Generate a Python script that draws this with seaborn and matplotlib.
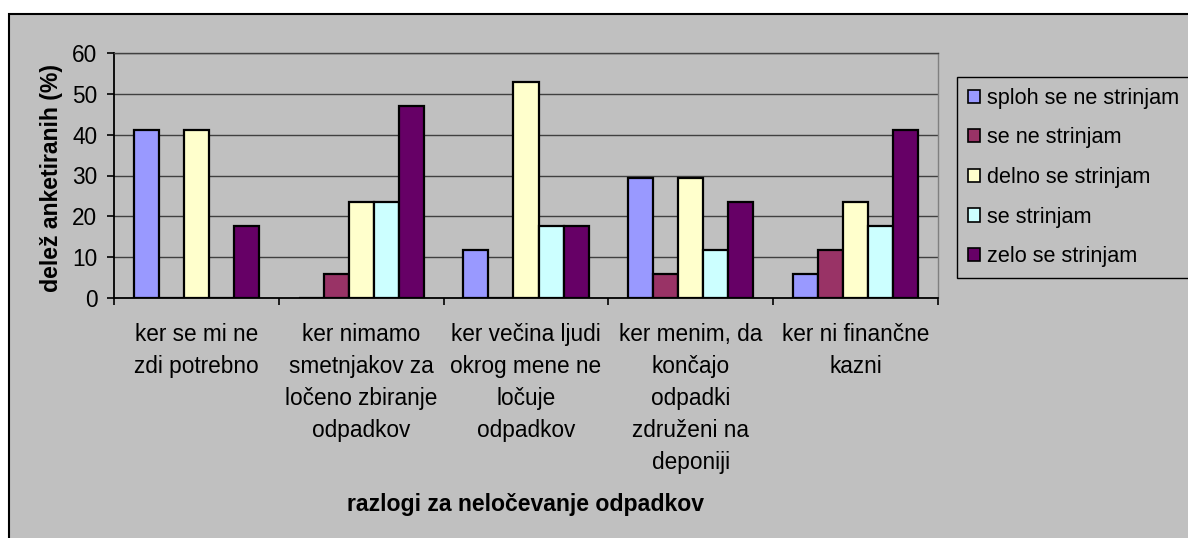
import matplotlib
matplotlib.use("Agg")
import matplotlib.pyplot as plt
import matplotlib.patches as mpatches
import numpy as np
import pandas as pd
import seaborn as sns

# ---- data -------------------------------------------------------------
categories = [
    "ker se mi ne\nzdi potrebno",
    "ker nimamo\nsmetnjakov za\nločeno zbiranje\nodpadkov",
    "ker večina ljudi\nokrog mene ne\nločuje\nodpadkov",
    "ker menim, da\nkončajo\nodpadki\nzdruženi na\ndeponiji",
    "ker ni finančne\nkazni",
]
series = ["sploh se ne strinjam", "se ne strinjam", "delno se strinjam",
          "se strinjam", "zelo se strinjam"]
sploh_se_ne = [41.2, 0.0, 11.8, 29.4, 5.9]
se_ne = [0.0, 5.9, 0.0, 5.9, 11.8]
delno = [41.2, 23.5, 52.9, 29.4, 23.5]
se_strinjam = [0.0, 23.5, 17.6, 11.8, 17.6]
zelo = [17.6, 47.1, 17.6, 23.5, 41.2]
colors = ["#9999FF", "#993366", "#FFFFCC", "#CCFFFF", "#660066"]
yticks = [0, 10, 20, 30, 40, 50, 60]
xlabel = "razlogi za neločevanje odpadkov"
ylabel = "delež anketiranih (%)"

values = [sploh_se_ne, se_ne, delno, se_strinjam, zelo]
rows = []
for s, vals in zip(series, values):
    for c, v in zip(categories, vals):
        rows.append({"razlog": c, "odgovor": s, "delez": v})
df = pd.DataFrame(rows)

# ---- style ------------------------------------------------------------
sns.set_style("white")
plt.rcParams["font.family"] = ["Liberation Sans", "DejaVu Sans"]
for k in ["text.color", "axes.labelcolor", "xtick.color", "ytick.color"]:
    plt.rcParams[k] = "black"
FS = 16.3
FSB = 16.6
FSL = 15.6
W, H = 1188, 538
fig = plt.figure(figsize=(W / 100, H / 100), dpi=100, facecolor="white")

bg = mpatches.Rectangle((9 / W, -0.05), 1.1, (H - 14) / H + 0.05,
                        transform=fig.transFigure, facecolor="#C0C0C0",
                        edgecolor="black", linewidth=1.5, zorder=-1)
fig.add_artist(bg)

ax = fig.add_axes([114 / W, 1 - 298 / H, (938 - 114) / W, (298 - 53) / H])
ax.set_facecolor("#C0C0C0")

sns.barplot(data=df, x="razlog", y="delez", hue="odgovor",
            order=categories, hue_order=series, palette=colors,
            saturation=1, width=0.76, edgecolor="black", linewidth=1.6,
            legend=False, ax=ax)

ax.set_ylim(0, 60)
ax.set_xlim(-0.5, len(categories) - 0.5)
ax.set_yticks(yticks)
ax.set_yticklabels([str(t) for t in yticks], fontsize=FS)
ax.yaxis.grid(True, color="#404040", linewidth=1)
ax.set_axisbelow(True)

ax.set_xticks(range(len(categories)))
ax.set_xticklabels(categories, fontsize=FS, linespacing=1.5, va="top")
ax.set_xticks(np.arange(-0.5, len(categories)), minor=True)
ax.tick_params(axis="x", which="major", length=0, pad=18, bottom=True)
ax.tick_params(axis="x", which="minor", length=5, width=1.2, color="black",
               direction="out", bottom=True)
ax.tick_params(axis="y", which="major", length=5, width=1.2, color="black",
               pad=7, direction="out", left=True)

for side in ["left", "bottom"]:
    ax.spines[side].set_color("black")
    ax.spines[side].set_linewidth(1.3)
ax.spines["top"].set_color("#404040")
ax.spines["top"].set_linewidth(1)
ax.spines["right"].set_color("#808080")
ax.spines["right"].set_linewidth(1)

ax.set_xlabel(xlabel, fontsize=FSB, fontweight="bold")
ax.xaxis.label.set_va("center")
ax.xaxis.set_label_coords(0.5, (298 - 504) / 245)
ax.set_ylabel(ylabel, fontsize=FSB, fontweight="bold")
ax.yaxis.label.set_va("center")
ax.yaxis.set_label_coords((52 - 114) / 824, 0.49)

handles = [mpatches.Patch(facecolor=c, edgecolor="black", linewidth=1.2)
           for c in colors]
fig.legend(handles, series, loc="upper left",
           bbox_to_anchor=(957 / W, 1 - 77 / H), borderaxespad=0,
           fontsize=FSL, frameon=True, fancybox=False, framealpha=1,
           facecolor="#C0C0C0", edgecolor="black",
           handlelength=0.57, handleheight=0.57, handletextpad=0.32,
           borderpad=0.5, labelspacing=0.86)
fig.legends[0].get_frame().set_linewidth(1)

fig.savefig("out.png", dpi=100)
